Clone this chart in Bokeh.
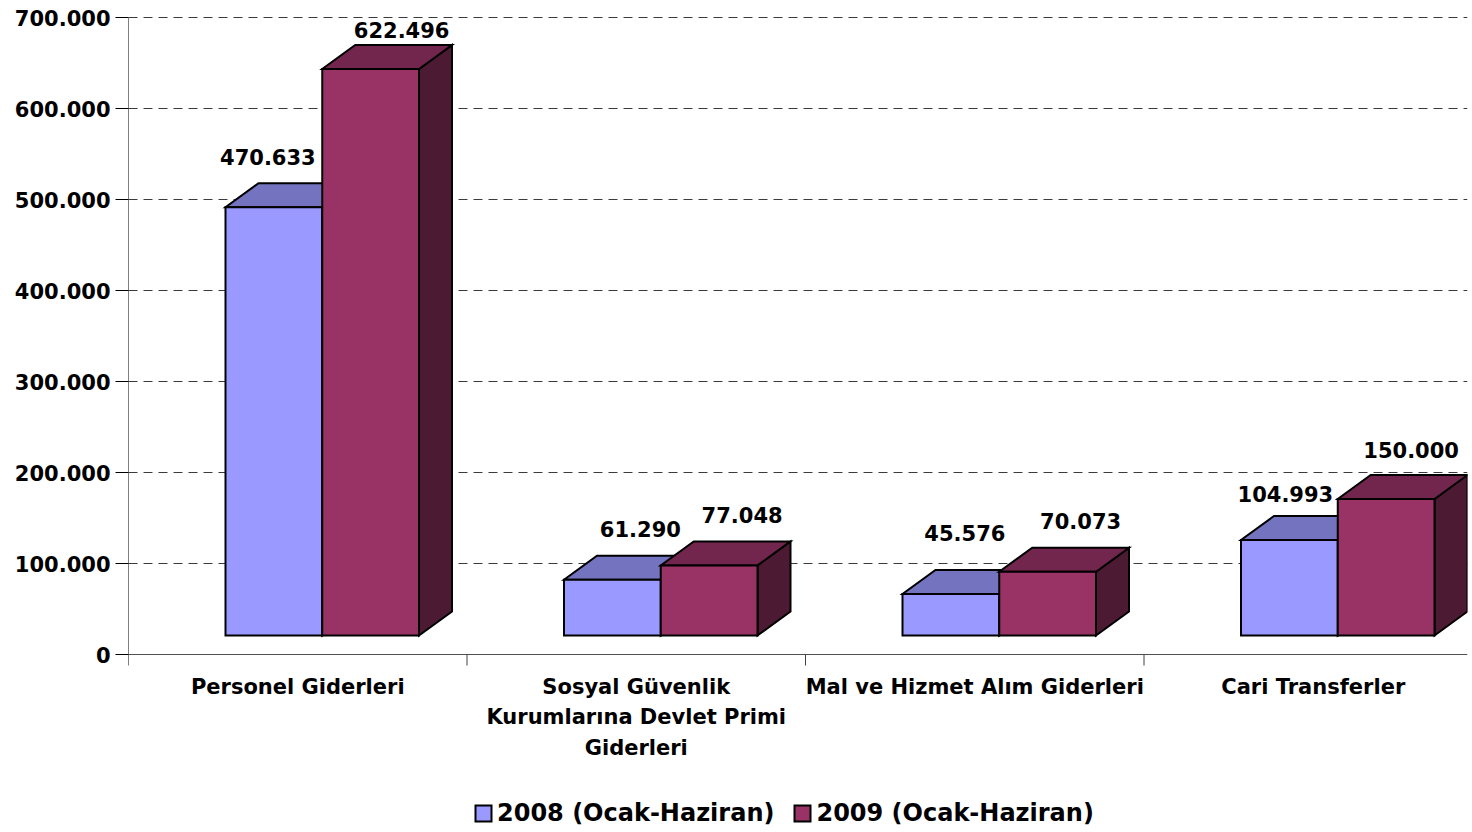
from bokeh.plotting import figure
from bokeh.models import Range1d, FixedTicker, ColumnDataSource, Legend, LegendItem
from bokeh.embed import file_html
from bokeh.resources import INLINE
from bokeh.core.properties import value

# ---------------- data ----------------
categories = [
    "Personel Giderleri",
    "Sosyal Güvenlik\nKurumlarına Devlet Primi\nGiderleri",
    "Mal ve Hizmet Alım Giderleri",
    "Cari Transferler",
]
series_names = ["2008 (Ocak-Haziran)", "2009 (Ocak-Haziran)"]
values_2008 = [470633, 61290, 45576, 104993]
values_2009 = [622496, 77048, 70073, 150000]
y_ticks = [0, 100000, 200000, 300000, 400000, 500000, 600000, 700000]

# ---------------- layout / style constants ----------------
W, H = 1472, 832
B_L, B_R, B_T, B_B = 128, 5, 5, 0
FRAME_W = W - B_L - B_R
Y_TOP_PX = 17              # screen y of top tick value
Y_ZERO_PX = 654            # screen y of value 0
CAT_PX = 338.5             # pixels per category
Y_MAX = y_ticks[-1]
PX_PER_VAL = (Y_ZERO_PX - Y_TOP_PX) / Y_MAX
Y_MIN = -(H - Y_ZERO_PX) / PX_PER_VAL
Y_RANGE_MAX = Y_MAX + (Y_TOP_PX - B_T) / PX_PER_VAL
X_MAX = FRAME_W / CAT_PX

BAR_OFF = 97.0 / CAT_PX
BAR_W = 96.75 / CAT_PX
DEPTH_X = 33.0 / CAT_PX
DEPTH_Y = 24.0 / PX_PER_VAL
BASE = 19.0 / PX_PER_VAL
TICK_LEN = 11.0 / PX_PER_VAL

FONT = "DejaVu Sans"
colors = {
    "2008": {"front": "#9999FF", "top": "#7373BF", "side": "#5C5C99"},
    "2009": {"front": "#993366", "top": "#73264D", "side": "#4D1A33"},
}
# label nudges in screen px (dx relative to back-face centre, gap above back top edge)
label_dx = {"2008": [-39, -5, -19, -37], "2009": [-2, 0, 0, -8]}
label_gap = {"2008": [26, 27, 37, 22], "2009": [15, 26, 27, 25]}
CAT_LABEL_FIRST = 32      # px below axis to first baseline
CAT_LABEL_STEP = 30.7     # px line spacing


def fmt(v):
    return f"{v:,}".replace(",", ".")


p = figure(
    width=W, height=H,
    x_range=Range1d(0, X_MAX), y_range=Range1d(Y_MIN, Y_RANGE_MAX),
    output_backend="svg", toolbar_location=None, x_axis_location=None,
    min_border_left=B_L, min_border_right=B_R,
    min_border_top=B_T, min_border_bottom=B_B,
)
p.outline_line_color = None
p.background_fill_color = "white"
p.border_fill_color = "white"
p.xgrid.visible = False
p.ygrid.ticker = FixedTicker(ticks=y_ticks[1:])
p.ygrid.grid_line_color = "#3a3a3a"
p.ygrid.grid_line_dash = "9 6"
p.ygrid.grid_line_width = 1

# y axis (line drawn manually so it stops just below zero)
p.yaxis.ticker = FixedTicker(ticks=y_ticks)
p.yaxis.major_label_overrides = {t: fmt(t) for t in y_ticks}
p.yaxis.major_label_text_font = FONT
p.yaxis.major_label_text_font_style = "bold"
p.yaxis.major_label_text_font_size = "21px"
p.yaxis.major_label_text_color = "black"
p.yaxis.major_tick_out = 13
p.yaxis.major_tick_in = 0
p.yaxis.minor_tick_line_color = None
p.yaxis.major_label_standoff = 5
p.yaxis.axis_line_color = None
p.yaxis.major_tick_line_color = "black"

# axis lines / category boundary ticks
p.segment(x0=[0], y0=[-TICK_LEN], x1=[0], y1=[Y_MAX], line_color="black", line_width=1)
p.segment(x0=[0], y0=[0], x1=[X_MAX], y1=[0], line_color="#505050", line_width=1)
bounds = [float(i) for i in range(1, len(categories))]
p.segment(x0=bounds, y0=[0] * len(bounds), x1=bounds, y1=[-TICK_LEN] * len(bounds),
          line_color="#404040", line_width=1)

# category labels
cx, cy, ct, coff = [], [], [], []
for i, cat in enumerate(categories):
    for j, line in enumerate(cat.split("\n")):
        cx.append(i + 0.5)
        cy.append(0)
        ct.append(line)
        coff.append(CAT_LABEL_FIRST + j * CAT_LABEL_STEP)
p.text(x="x", y="y", text="text", y_offset="off",
       source=ColumnDataSource(dict(x=cx, y=cy, text=ct, off=coff)),
       text_font=value(FONT), text_font_style="bold", text_font_size="21px",
       text_color="black", text_align="center", text_baseline="alphabetic")

front_renderers = []
for s_idx, (key, vals) in enumerate([("2008", values_2008), ("2009", values_2009)]):
    xs_front, ys_front, xs_top, ys_top, xs_side, ys_side = [], [], [], [], [], []
    lab_x, lab_y, lab_t, lab_dx, lab_dy = [], [], [], [], []
    for c_idx, v in enumerate(vals):
        x0 = c_idx + BAR_OFF + s_idx * BAR_W
        x1 = x0 + BAR_W
        b = BASE
        t = BASE + v
        xs_front.append([x0, x1, x1, x0])
        ys_front.append([b, b, t, t])
        xs_top.append([x0, x1, x1 + DEPTH_X, x0 + DEPTH_X])
        ys_top.append([t, t, t + DEPTH_Y, t + DEPTH_Y])
        xs_side.append([x1, x1 + DEPTH_X, x1 + DEPTH_X, x1])
        ys_side.append([b, b + DEPTH_Y, t + DEPTH_Y, t])
        lab_x.append((x0 + x1) / 2 + DEPTH_X)
        lab_y.append(t + DEPTH_Y)
        lab_t.append(fmt(v))
        lab_dx.append(label_dx[key][c_idx])
        lab_dy.append(-label_gap[key][c_idx])
    col = colors[key]
    common = dict(line_color="black", line_width=2, line_join="miter")
    p.patches(xs_side, ys_side, fill_color=col["side"], **common)
    p.patches(xs_top, ys_top, fill_color=col["top"], **common)
    fr = p.patches(xs_front, ys_front, fill_color=col["front"], **common)
    front_renderers.append(fr)
    src = ColumnDataSource(dict(x=lab_x, y=lab_y, text=lab_t, dx=lab_dx, dy=lab_dy))
    p.text(x="x", y="y", text="text", x_offset="dx", y_offset="dy", source=src,
           text_font=value(FONT), text_font_style="bold", text_font_size="21px",
           text_color="black", text_align="center", text_baseline="middle")

legend = Legend(
    items=[LegendItem(label=series_names[i], renderers=[front_renderers[i]]) for i in range(2)],
    orientation="horizontal", location=(345, 5),
    label_text_font=FONT, label_text_font_style="bold", label_text_font_size="24px",
    label_text_color="black",
    glyph_width=20, glyph_height=20, label_standoff=4, spacing=18, label_height=20,
    padding=0, margin=0, border_line_color=None, background_fill_alpha=0,
)
p.add_layout(legend, "center")

open("out.html", "w").write(file_html(p, INLINE))
